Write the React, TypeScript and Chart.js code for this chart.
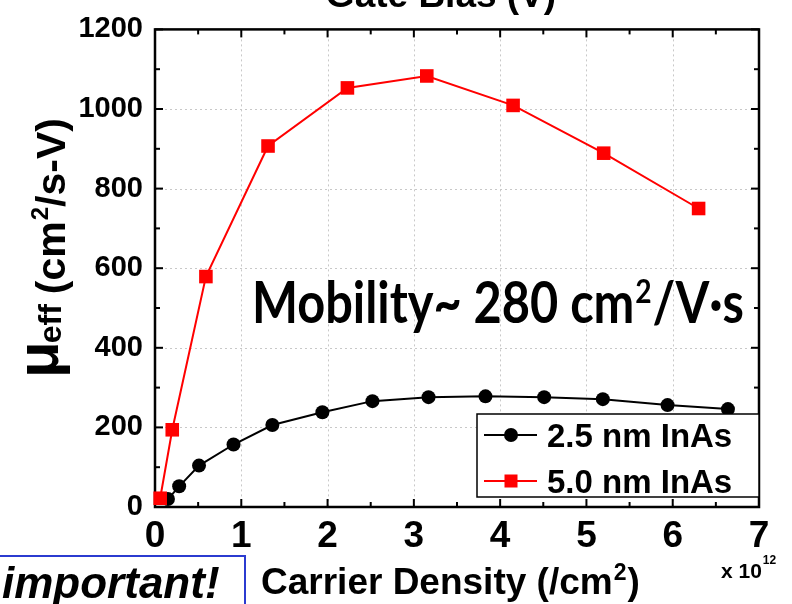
import { useEffect, useRef } from "react";
import { Chart, registerables } from "chart.js";

Chart.register(...registerables);

// ---- data ----
const xTickValues = [0, 1, 2, 3, 4, 5, 6, 7];
const yTickValues = [0, 200, 400, 600, 800, 1000, 1200];
const xMinorValues = [0.5, 1.5, 2.5, 3.5, 4.5, 5.5, 6.5];
const yMinorValues = [100, 300, 500, 700, 900, 1100];

const density25 = [0.15, 0.28, 0.51, 0.91, 1.36, 1.94, 2.52, 3.17, 3.83, 4.51, 5.19, 5.94, 6.64];
const mobility25 = [20, 52, 104, 157, 206, 238, 266, 276, 278, 276, 271, 256, 246];

const density50 = [0.06, 0.2, 0.59, 1.31, 2.23, 3.15, 4.15, 5.2, 6.3];
const mobility50 = [22, 194, 579, 907, 1053, 1083, 1009, 889, 750];

const seriesLabels = ["2.5 nm InAs", "5.0 nm InAs"];
const seriesColors = ["#000000", "#ff0000"];

const xTitle = "Carrier Density (/cm";
const topTitle = "Gate Bias (V)";
const annotation = "Mobility~ 280 cm";
const noteText = "important!";

const ARIAL = "'Liberation Sans', Arial, sans-serif";
const CALIBRI = "Lato, 'Open Sans', sans-serif";

const decorPlugin = {
  id: "decor",
  beforeDatasetsDraw(chart: any) {
    const { ctx, chartArea: a } = chart;
    const xs = chart.scales.x;
    const ys = chart.scales.y;
    ctx.save();
    // dotted grid
    ctx.strokeStyle = "#c8c8c8";
    ctx.lineWidth = 1;
    ctx.setLineDash([2, 3]);
    xTickValues.slice(1, -1).forEach((v) => {
      const px = Math.round(xs.getPixelForValue(v)) + 0.5;
      ctx.beginPath();
      ctx.moveTo(px, a.top);
      ctx.lineTo(px, a.bottom);
      ctx.stroke();
    });
    yTickValues.slice(1, -1).forEach((v) => {
      const py = Math.round(ys.getPixelForValue(v)) + 0.5;
      ctx.beginPath();
      ctx.moveTo(a.left, py);
      ctx.lineTo(a.right, py);
      ctx.stroke();
    });
    ctx.setLineDash([]);
    ctx.strokeStyle = "#000";
    ctx.lineWidth = 2;
    // inward ticks
    const tick = (x1: number, y1: number, x2: number, y2: number) => {
      ctx.beginPath();
      ctx.moveTo(x1, y1);
      ctx.lineTo(x2, y2);
      ctx.stroke();
    };
    const major = 8;
    const minor = 5;
    xTickValues.forEach((v) => {
      const px = xs.getPixelForValue(v);
      tick(px, a.bottom, px, a.bottom - major);
      tick(px, a.top, px, a.top + major);
    });
    xMinorValues.forEach((v) => {
      const px = xs.getPixelForValue(v);
      tick(px, a.bottom, px, a.bottom - minor);
      tick(px, a.top, px, a.top + minor);
    });
    yTickValues.forEach((v) => {
      const py = ys.getPixelForValue(v);
      tick(a.left, py, a.left + major, py);
      tick(a.right, py, a.right - major, py);
    });
    yMinorValues.forEach((v) => {
      const py = ys.getPixelForValue(v);
      tick(a.left, py, a.left + minor, py);
      tick(a.right, py, a.right - minor, py);
    });
    ctx.lineWidth = 2.5;
    ctx.strokeRect(a.left, a.top, a.right - a.left, a.bottom - a.top);
    ctx.restore();
  },
  afterDraw(chart: any) {
    const { ctx, chartArea: a } = chart;
    ctx.save();
    ctx.fillStyle = "#000";
    ctx.textAlign = "left";
    ctx.textBaseline = "alphabetic";

    // top axis title (cut off)
    ctx.font = `bold 37px ${ARIAL}`;
    ctx.textAlign = "center";
    ctx.fillText(topTitle, 441, 7);
    ctx.textAlign = "left";

    // x axis title
    ctx.font = `bold 37px ${ARIAL}`;
    let x = 261;
    ctx.fillText(xTitle, x, 594);
    x += ctx.measureText(xTitle).width;
    ctx.font = `bold 23px ${ARIAL}`;
    ctx.fillText("2", x + 1, 580);
    x += ctx.measureText("2").width + 2;
    ctx.font = `bold 37px ${ARIAL}`;
    ctx.fillText(")", x, 594);

    // x10^12
    ctx.font = `bold 21px ${ARIAL}`;
    ctx.fillText("x 10", 721, 578);
    const wx = ctx.measureText("x 10").width;
    ctx.font = `bold 12px ${ARIAL}`;
    ctx.fillText("12", 721 + wx + 1, 564);

    // y axis title (rotated)
    ctx.save();
    ctx.rotate(-Math.PI / 2);
    let u = -378;
    ctx.font = `bold 60px ${ARIAL}`;
    ctx.fillText("\u03bc", u, 58);
    u += ctx.measureText("\u03bc").width - 2;
    ctx.font = `bold 32px ${ARIAL}`;
    ctx.fillText("eff", u, 61);
    u += ctx.measureText("eff").width + 10;
    ctx.font = `bold 41px ${ARIAL}`;
    ctx.fillText("(cm", u, 65);
    u += ctx.measureText("(cm").width;
    ctx.font = `bold 24px ${ARIAL}`;
    ctx.fillText("2", u + 1, 48);
    u += ctx.measureText("2").width + 1;
    ctx.font = `bold 41px ${ARIAL}`;
    ctx.fillText("/s-V)", u, 65);
    ctx.restore();

    // annotation
    ctx.save();
    ctx.font = `bold 57px ${CALIBRI}`;
    const w1 = ctx.measureText(annotation).width;
    ctx.font = `bold 33px ${CALIBRI}`;
    const w2 = ctx.measureText("2").width;
    ctx.font = `bold 57px ${CALIBRI}`;
    const w3 = ctx.measureText("/V\u00b7s").width;
    const total = w1 + w2 + 2 + w3;
    const sx = 492 / total;
    ctx.translate(252, 323);
    ctx.scale(sx, 1);
    ctx.fillText(annotation, 0, 0);
    ctx.font = `bold 33px ${CALIBRI}`;
    ctx.fillText("2", w1 + 1, -20);
    ctx.font = `bold 57px ${CALIBRI}`;
    ctx.fillText("/V\u00b7s", w1 + w2 + 2, 0);
    ctx.restore();

    // legend
    const lx = 477;
    const ly = 414;
    const lw = a.right - lx;
    const lh = 83;
    ctx.fillStyle = "#fff";
    ctx.fillRect(lx, ly, lw, lh);
    ctx.strokeStyle = "#000";
    ctx.lineWidth = 1.5;
    ctx.strokeRect(lx, ly, lw, lh);
    const rows = [435, 481];
    rows.forEach((ry, i) => {
      ctx.strokeStyle = seriesColors[i];
      ctx.lineWidth = 2;
      ctx.beginPath();
      ctx.moveTo(484, ry);
      ctx.lineTo(537, ry);
      ctx.stroke();
      ctx.fillStyle = seriesColors[i];
      if (i === 0) {
        ctx.beginPath();
        ctx.arc(511, ry, 7, 0, Math.PI * 2);
        ctx.fill();
      } else {
        ctx.fillRect(511 - 6.5, ry - 6.5, 13, 13);
      }
      ctx.fillStyle = "#000";
      ctx.font = `bold 33px ${ARIAL}`;
      ctx.fillText(seriesLabels[i], 547, ry + 12);
    });

    // "important!" box
    ctx.strokeStyle = "#2b3bd0";
    ctx.lineWidth = 2;
    ctx.strokeRect(-4, 556, 249, 60);
    ctx.fillStyle = "#000";
    ctx.font = `italic bold 44px ${ARIAL}`;
    ctx.fillText(noteText, 2, 598);

    ctx.restore();
  },
};

export default function App() {
  const ref = useRef<HTMLCanvasElement | null>(null);

  useEffect(() => {
    if (!ref.current) return;
    const chart = new Chart(ref.current, {
      type: "scatter",
      data: {
        datasets: [
          {
            label: seriesLabels[0],
            data: density25.map((d, i) => ({ x: d, y: mobility25[i] })),
            showLine: true,
            borderColor: seriesColors[0],
            backgroundColor: seriesColors[0],
            borderWidth: 2,
            pointStyle: "circle",
            pointRadius: 7,
            pointBorderWidth: 0,
            order: 1,
            clip: false,
          },
          {
            label: seriesLabels[1],
            data: density50.map((d, i) => ({ x: d, y: mobility50[i] })),
            showLine: true,
            borderColor: seriesColors[1],
            backgroundColor: seriesColors[1],
            borderWidth: 2,
            pointStyle: "rect",
            pointRadius: 9.6,
            pointBorderWidth: 0,
            order: 0,
            clip: false,
          },
        ],
      },
      options: {
        responsive: false,
        animation: false,
        events: [],
        layout: { padding: { top: 23, right: 33, left: 0, bottom: 0 } },
        plugins: {
          legend: { display: false },
          tooltip: { enabled: false },
        },
        scales: {
          x: {
            type: "linear",
            min: 0,
            max: 7,
            afterFit: (s: any) => {
              s.height = 97;
            },
            afterBuildTicks: (s: any) => {
              s.ticks = xTickValues.map((v) => ({ value: v }));
            },
            ticks: {
              color: "#000",
              padding: 8,
              maxRotation: 0,
              autoSkip: false,
              callback: (v: any) => String(v),
              font: { family: ARIAL, size: 37, weight: "bold" },
            },
            grid: { display: false, drawTicks: false },
            border: { display: false },
          },
          y: {
            type: "linear",
            min: 0,
            max: 1200,
            afterFit: (s: any) => {
              s.width = 155;
            },
            afterBuildTicks: (s: any) => {
              s.ticks = yTickValues.map((v) => ({ value: v }));
            },
            ticks: {
              color: "#000",
              padding: 12,
              callback: (v: any) => String(v),
              font: { family: ARIAL, size: 29, weight: "bold" },
            },
            grid: { display: false, drawTicks: false },
            border: { display: false },
          },
        },
      },
      plugins: [decorPlugin],
    } as any);
    return () => chart.destroy();
  }, []);

  return (
    <div style={{ position: "fixed", left: 0, top: 0, width: 792, height: 604, background: "#fff" }}>
      <canvas ref={ref} width={792} height={604} style={{ display: "block" }} />
    </div>
  );
}
